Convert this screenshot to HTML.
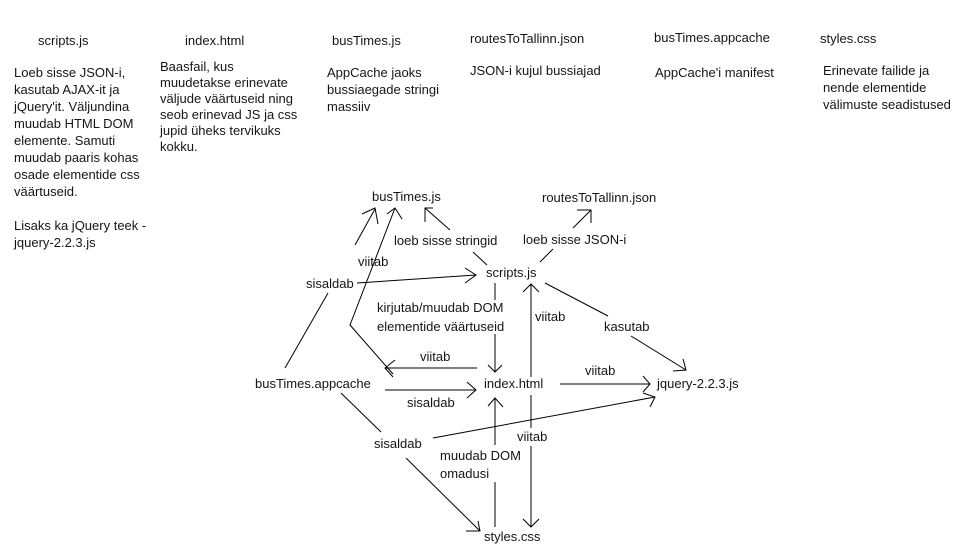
<!DOCTYPE html>
<html><head><meta charset="utf-8"><style>
html,body{margin:0;padding:0;background:#fff;}
svg{display:block}
text{font-family:"Liberation Sans",sans-serif;font-size:13px;fill:#151515;}
line,polyline{stroke:#000;stroke-width:1;fill:none;}
</style></head><body>
<svg width="969" height="546" viewBox="0 0 969 546">
<!-- headers -->
<text x="38" y="45">scripts.js</text>
<text x="185" y="45">index.html</text>
<text x="332" y="45">busTimes.js</text>
<text x="470" y="43">routesToTallinn.json</text>
<text x="654" y="42">busTimes.appcache</text>
<text x="820" y="43">styles.css</text>

<text x="14" y="77">Loeb sisse JSON-i,</text>
<text x="14" y="94">kasutab AJAX-it ja</text>
<text x="14" y="111">jQuery'it. Väljundina</text>
<text x="14" y="128">muudab HTML DOM</text>
<text x="14" y="145">elemente.  Samuti</text>
<text x="14" y="162">muudab paaris kohas</text>
<text x="14" y="179">osade elementide css</text>
<text x="14" y="196">väärtuseid.</text>
<text x="14" y="230">Lisaks ka jQuery teek -</text>
<text x="14" y="247">jquery-2.2.3.js</text>

<text x="160" y="71">Baasfail, kus</text>
<text x="160" y="87">muudetakse erinevate</text>
<text x="160" y="103">väljude väärtuseid ning</text>
<text x="160" y="119">seob erinevad JS ja css</text>
<text x="160" y="135">jupid üheks tervikuks</text>
<text x="160" y="151">kokku.</text>

<text x="327" y="77">AppCache jaoks</text>
<text x="327" y="94">bussiaegade stringi</text>
<text x="327" y="111">massiiv</text>

<text x="470" y="75">JSON-i kujul bussiajad</text>
<text x="655" y="77">AppCache'i manifest</text>

<text x="823" y="75">Erinevate failide ja</text>
<text x="823" y="92">nende elementide</text>
<text x="823" y="109">välimuste seadistused</text>

<!-- diagram nodes -->
<text x="372" y="201">busTimes.js</text>
<text x="542" y="202">routesToTallinn.json</text>
<text x="394" y="245">loeb sisse stringid</text>
<text x="523" y="244">loeb sisse JSON-i</text>
<text x="486" y="277">scripts.js</text>
<text x="358" y="266">viitab</text>
<text x="306" y="288">sisaldab</text>
<text x="377" y="312">kirjutab/muudab DOM</text>
<text x="377" y="331">elementide väärtuseid</text>
<text x="535" y="321">viitab</text>
<text x="604" y="331">kasutab</text>
<text x="420" y="361">viitab</text>
<text x="255" y="388">busTimes.appcache</text>
<text x="484" y="388">index.html</text>
<text x="657" y="388">jquery-2.2.3.js</text>
<text x="585" y="375">viitab</text>
<text x="407" y="407">sisaldab</text>
<text x="374" y="448">sisaldab</text>
<text x="517" y="441">viitab</text>
<text x="440" y="460">muudab DOM</text>
<text x="440" y="478">omadusi</text>
<text x="484" y="541">styles.css</text>

<!-- connectors -->
<line x1="285" y1="368" x2="328" y2="293"/>
<line x1="355" y1="245" x2="375" y2="209"/>
<polyline points="362,214 375,208 378,224"/>

<line x1="477" y1="368" x2="385" y2="368"/>
<polyline points="395,360 385,368 393,377"/>
<polyline points="393,374 350,325 395,208"/>
<polyline points="387,214 395,208 402,219"/>

<line x1="425" y1="208" x2="450" y2="230"/>
<line x1="473" y1="252" x2="487" y2="265"/>
<polyline points="425,222 425,208 433,208"/>

<line x1="540" y1="262" x2="553" y2="249"/>
<line x1="573" y1="228" x2="591" y2="210"/>
<polyline points="577,210 591,210 591,223"/>

<line x1="357" y1="283" x2="476" y2="275"/>
<polyline points="465,268 476,275 465,283"/>

<line x1="495" y1="283" x2="495" y2="300"/>
<line x1="495" y1="334" x2="495" y2="372"/>
<polyline points="488,365 495,372 502,365"/>

<line x1="531" y1="377" x2="531" y2="284"/>
<polyline points="523,292 531,284 539,292"/>

<line x1="545" y1="283" x2="608" y2="316"/>
<line x1="631" y1="336" x2="686" y2="370"/>
<polyline points="683,359 686,370 673,371"/>

<line x1="385" y1="390" x2="476" y2="390"/>
<polyline points="467,382 476,390 467,398"/>

<line x1="560" y1="384" x2="650" y2="384"/>
<polyline points="643,376 650,384 643,392"/>

<line x1="433" y1="438" x2="655" y2="397"/>
<polyline points="643,393 655,397 650,407"/>

<line x1="341" y1="393" x2="381" y2="432"/>
<line x1="406" y1="458" x2="480" y2="531"/>
<polyline points="466,531 480,531 478,521"/>

<line x1="495" y1="527" x2="495" y2="482"/>
<line x1="495" y1="445" x2="495" y2="398"/>
<polyline points="488,406 495,398 503,407"/>

<line x1="531" y1="395" x2="531" y2="428"/>
<line x1="531" y1="446" x2="531" y2="527"/>
<polyline points="523,519 531,527 539,519"/>
</svg>
</body></html>
